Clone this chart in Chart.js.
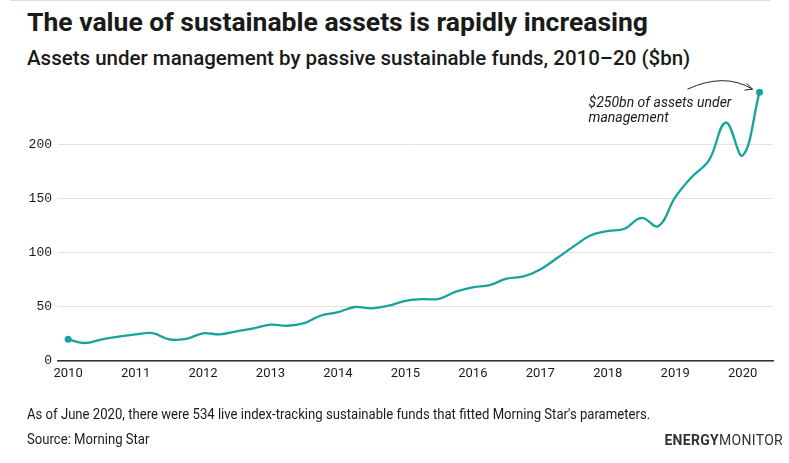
<!DOCTYPE html>
<html>
<head>
<meta charset="utf-8">
<script src="https://cdn.jsdelivr.net/npm/chart.js@4/dist/chart.umd.min.js"></script>
<style>
  body { margin: 0; background: #fff; }
  #wrap { position: relative; width: 789px; height: 463px; overflow: hidden; font-family: 'Roboto', sans-serif; color: #1a1a1a; }
  #topline { position: absolute; left: 10px; top: 0; width: 760px; height: 1px; background: #dedede; }
  #title { position: absolute; left: 27px; top: 6px; font-size: 26.5px; font-weight: bold; white-space: nowrap; }
  #subtitle { position: absolute; left: 27px; top: 46px; font-size: 20.5px; font-weight: 500; white-space: nowrap; }
  #note, #source { position: absolute; left: 27px; font-size: 14.5px; white-space: nowrap; transform: scaleX(0.905); transform-origin: left center; }
  #note { top: 406px; }
  #source { top: 431px; }
  #logo { position: absolute; right: 6px; top: 432px; font-size: 14px; letter-spacing: 0.3px; color: #333; white-space: nowrap; }
  #logo b { font-weight: bold; }
  #chartBox { position: absolute; left: 0; top: 0; width: 789px; height: 463px; }
</style>
</head>
<body>
<div id="wrap">
  <div id="topline"></div>
  <div id="title">The value of sustainable assets is rapidly increasing</div>
  <div id="subtitle">Assets under management by passive sustainable funds, 2010–20 ($bn)</div>
  <div id="chartBox"><canvas id="myChart" width="789" height="463"></canvas></div>
  <div id="note">As of June 2020, there were 534 live index-tracking sustainable funds that fitted Morning Star's parameters.</div>
  <div id="source">Source: Morning Star</div>
  <div id="logo"><b>ENERGY</b>MONITOR</div>
</div>
<script>
// quarterly points, decimal years
const quarters = [
    2010, 2010.25, 2010.5, 2010.75,
    2011, 2011.25, 2011.5, 2011.75,
    2012, 2012.25, 2012.5, 2012.75,
    2013, 2013.25, 2013.5, 2013.75,
    2014, 2014.25, 2014.5, 2014.75,
    2015, 2015.25, 2015.5, 2015.75,
    2016, 2016.25, 2016.5, 2016.75,
    2017, 2017.25, 2017.5, 2017.75,
    2018, 2018.25, 2018.5, 2018.75,
    2019, 2019.25, 2019.5, 2019.75,
    2020, 2020.25
];
// assets under management, $bn
const assets = [
    20, 16.6, 20, 22.5,
    24.5, 25.8, 20, 20.5,
    25.5, 24.6, 27.4, 30,
    33.5, 32.5, 35, 42,
    45, 49.8, 48.5, 51,
    55.5, 57, 57.4, 64,
    68, 70, 76, 78,
    84.5, 95, 106, 116,
    119.8, 122, 132, 124.4,
    151, 170, 185, 220,
    189.6, 248
];
const yearTicks = [2010, 2011, 2012, 2013, 2014, 2015, 2016, 2017, 2018, 2019, 2020];
const valueTicks = [0, 50, 100, 150, 200];
const noteLines = ['$250bn of assets under', 'management'];

const teal = '#17a39f';
const ctx = document.getElementById('myChart');

// italic note + curved arrow pointing at the last point
const notePlugin = {
    id: 'note',
    afterDatasetsDraw(chart) {
        const { ctx } = chart;
        const meta = chart.getDatasetMeta(0);
        const last = meta.data[meta.data.length - 1];
        const px = last.x, py = last.y;
        ctx.save();
        ctx.font = 'italic 14px Roboto, sans-serif';
        ctx.fillStyle = '#1a1a1a';
        ctx.textBaseline = 'alphabetic';
        ctx.fillText(noteLines[0], px - 171, py + 15);
        ctx.fillText(noteLines[1], px - 171, py + 30);

        ctx.strokeStyle = '#222';
        ctx.lineWidth = 1;
        ctx.beginPath();
        ctx.moveTo(px - 72, py - 3);
        ctx.quadraticCurveTo(px - 35, py - 20, px - 7, py - 3);
        ctx.stroke();
        // arrow head
        ctx.beginPath();
        ctx.moveTo(px - 13, py - 9);
        ctx.lineTo(px - 7, py - 3);
        ctx.lineTo(px - 15, py - 2);
        ctx.stroke();
        ctx.restore();
    }
};

new Chart(ctx, {
    type: 'line',
    data: {
        datasets: [{
            data: quarters.map((q, i) => ({ x: q, y: assets[i] })),
            borderColor: teal,
            backgroundColor: teal,
            borderWidth: 2.3,
            tension: 0.4,
            clip: false,
            pointRadius: (c) => (c.dataIndex === 0 || c.dataIndex === assets.length - 1) ? 3.5 : 0,
            pointBorderWidth: 0,
            pointHoverRadius: 0,
            fill: false
        }]
    },
    options: {
        responsive: false,
        animation: false,
        maintainAspectRatio: false,
        layout: {
            padding: { left: 0, right: 16, top: 90, bottom: 78 }
        },
        scales: {
            x: {
                type: 'linear',
                min: 2009.85,
                max: 2020.45,
                afterBuildTicks: (s) => { s.ticks = yearTicks.map(v => ({ value: v })); },
                afterFit: (s) => { s.height = 24; },
                grid: { display: false, drawTicks: false },
                border: { display: true, color: '#333', width: 1.5 },
                ticks: {
                    color: '#1a1a1a',
                    padding: 5,
                    maxRotation: 0,
                    font: { family: 'Roboto, sans-serif', size: 13 },
                    callback: (v) => String(v)
                }
            },
            y: {
                min: 0,
                max: 250,
                afterBuildTicks: (s) => { s.ticks = valueTicks.map(v => ({ value: v })); },
                afterFit: (s) => { s.width = 58; },
                grid: { color: '#e2e2e2', lineWidth: 1, drawTicks: false },
                border: { display: false },
                ticks: {
                    color: '#1a1a1a',
                    padding: 6,
                    font: { family: '"Liberation Mono", "DejaVu Sans Mono", monospace', size: 13 }
                }
            }
        },
        plugins: {
            legend: { display: false },
            tooltip: { enabled: false }
        }
    },
    plugins: [notePlugin]
});
</script>
</body>
</html>
